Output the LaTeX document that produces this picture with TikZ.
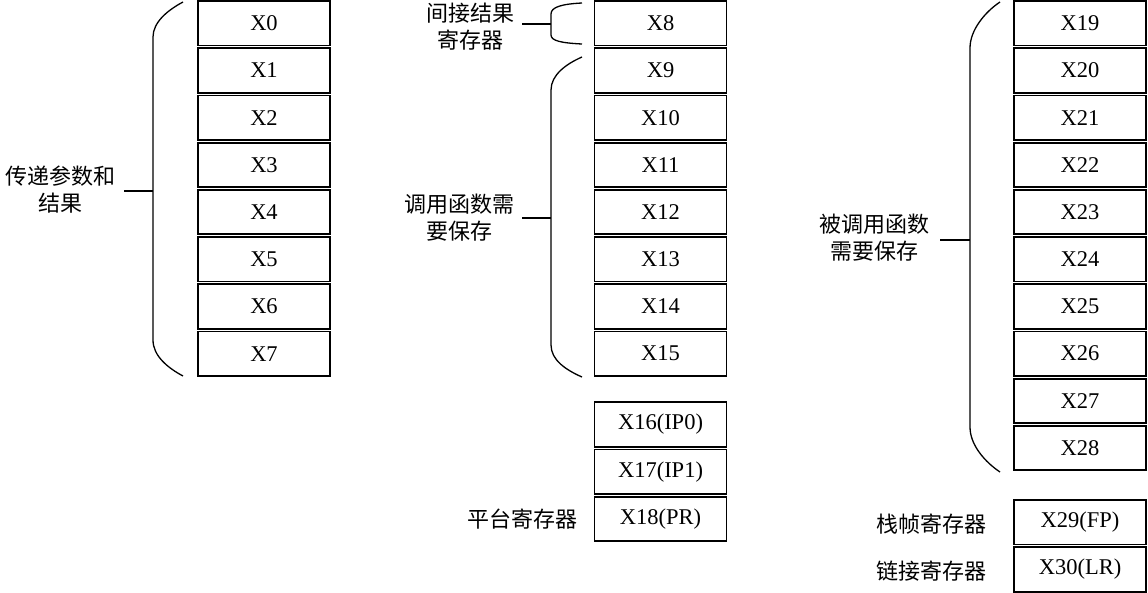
\documentclass[tikz,border=0pt]{standalone}
\usepackage{fontspec}
\setmainfont{Liberation Serif}
\newfontfamily\cjk{Noto Sans CJK SC}
\begin{document}
\begin{tikzpicture}[x=1pt,y=-1pt,
  reg/.style={draw,line width=1.8pt,minimum width=132pt,minimum height=44.5pt,inner sep=0pt,
    font=\fontsize{22.5}{26}\selectfont},
  lbl/.style={font=\cjk\fontsize{22}{27}\selectfont,align=center,inner sep=0pt},
  brace/.style={line width=1.3pt},
  tick/.style={line width=1.3pt}]
\useasboundingbox (0,0) rectangle (1148,592);
% column 1
\foreach \i in {0,...,7}{
  \node[reg] (r\i) at (264,{23.25+47.2*\i}) {X\i};
}
% column 2
\foreach \i in {8,...,15}{
  \node[reg] (r\i) at (660.5,{23.25+47.2*(\i-8)}) {X\i};
}
\node[reg] (r16) at (660.5,{23.25+47.2*8.5}) {X16(IP0)};
\node[reg] (r17) at (660.5,{23.25+47.2*9.5}) {X17(IP1)};
\node[reg] (r18) at (660.5,{23.25+47.2*10.5}) {X18(PR)};
% column 3
\foreach \i in {19,...,28}{
  \node[reg] (r\i) at (1080,{23.25+47.2*(\i-19)}) {X\i};
}
\node[reg] (r29) at (1080,{23.25+47.2*10.57}) {X29(FP)};
\node[reg] (r30) at (1080,{23.25+47.2*11.57}) {X30(LR)};

% braces
\draw[brace] (183,2) .. controls (168,10) and (153,22) .. (153,37) -- (153,340)
  .. controls (153,356) and (168,368) .. (183,376);
\coordinate (b1) at (153,191);
\draw[brace] (582,3) .. controls (562,4) and (551,7) .. (551,14) -- (551,35)
  .. controls (551,41) and (562,43) .. (582,44);
\coordinate (b2) at (551,24);
\draw[brace] (582,57) .. controls (566,64) and (551,75) .. (551,90) -- (551,345)
  .. controls (551,360) and (566,370) .. (582,377);
\coordinate (b3) at (551,218);
\draw[brace] (1000,2) .. controls (985,12) and (970,30) .. (970,48) -- (970,427)
  .. controls (970,445) and (985,462) .. (1000,472);
\coordinate (b4) at (970,240);

% labels
\node[lbl,anchor=east] (l1) at (116,190) {传递参数和\\结果};
\node[lbl,anchor=east] (l2) at (515,27) {间接结果\\寄存器};
\node[lbl,anchor=east] (l3) at (515,218) {调用函数需\\要保存};
\node[lbl,anchor=east] (l4) at (930,238) {被调用函数\\需要保存};
\draw[tick] ([xshift=8pt]l1.east |- b1) -- (b1);
\draw[tick] (522,24) -- (b2);
\draw[tick] (522,218) -- (b3);
\draw[tick] (940,240) -- (b4);

\node[lbl,anchor=east] (l5) at ([xshift=-16pt]r18.west) {平台寄存器};
\node[lbl,anchor=east] (l6) at ([xshift=-26pt,yshift=-2pt]r29.west) {栈帧寄存器};
\node[lbl,anchor=east] (l7) at ([xshift=-26pt,yshift=-2pt]r30.west) {链接寄存器};
\end{tikzpicture}
\end{document}
